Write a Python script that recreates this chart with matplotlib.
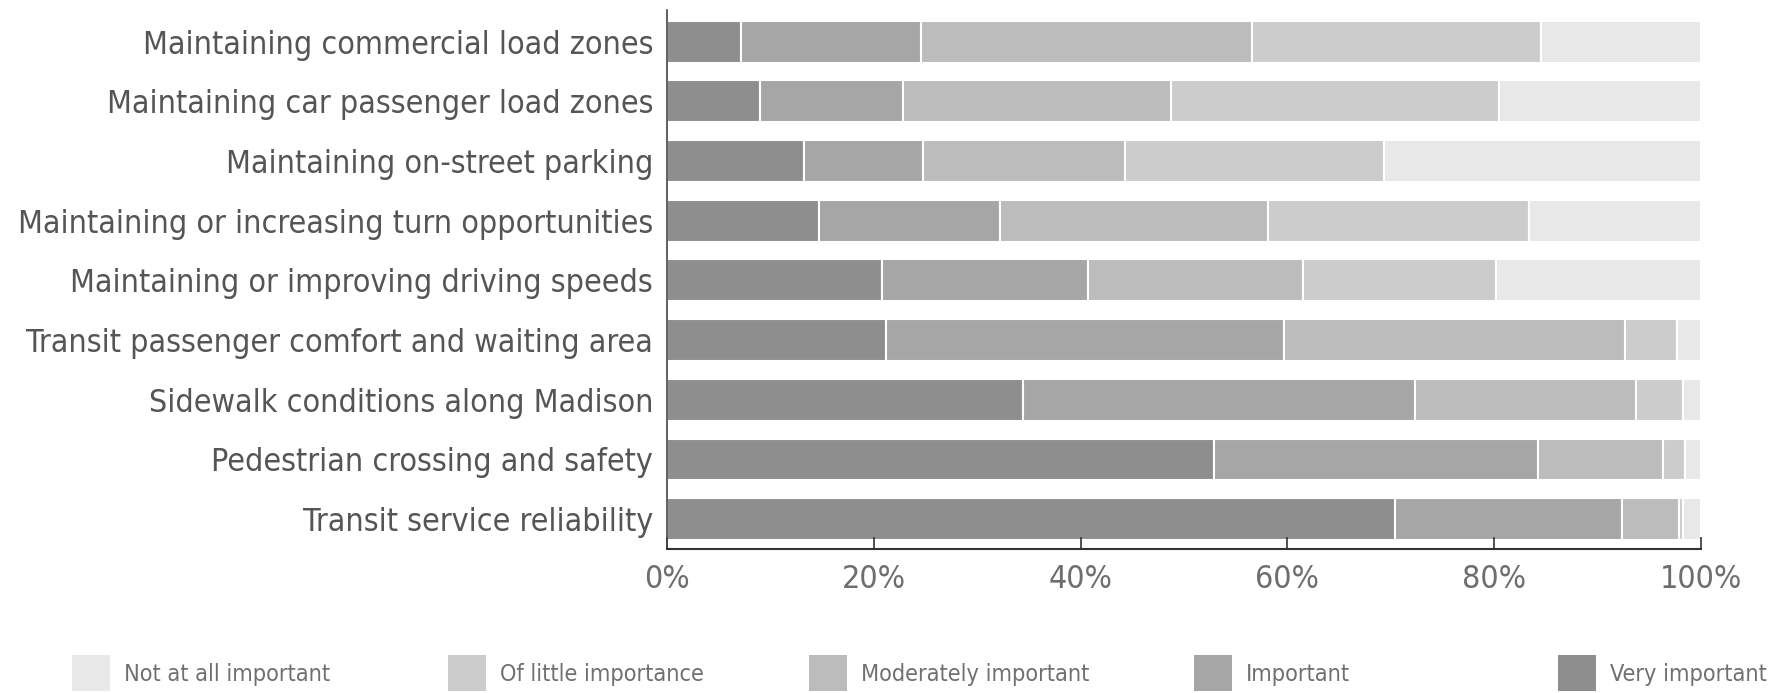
import numpy as np
import matplotlib.pyplot as plt
from matplotlib.patches import Rectangle

plt.rcParams['font.family'] = ['DejaVu Sans']
plt.rcParams['font.stretch'] = 'condensed'

# priorities, listed top to bottom
prioridades = [
    "Maintaining commercial load zones",
    "Maintaining car passenger load zones",
    "Maintaining on-street parking",
    "Maintaining or increasing turn opportunities",
    "Maintaining or improving driving speeds",
    "Transit passenger comfort and waiting area",
    "Sidewalk conditions along Madison",
    "Pedestrian crossing and safety",
    "Transit service reliability",
]

# percentage of answers for each level (same order as prioridades)
muy_importante = [7.2, 9.0, 13.3, 14.7, 20.8, 21.2, 34.4, 52.9, 70.4]
importante = [17.4, 13.8, 11.5, 17.5, 19.9, 38.5, 37.9, 31.3, 22.0]
moderado = [32.0, 25.9, 19.5, 25.9, 20.8, 33.0, 21.4, 12.1, 5.5]
poco = [27.9, 31.8, 25.0, 25.3, 18.7, 5.0, 4.6, 2.2, 0.4]
nada = [15.5, 19.5, 30.7, 16.6, 19.8, 2.3, 1.7, 1.5, 1.7]

niveles = ["Very important", "Important", "Moderately important",
           "Of little importance", "Not at all important"]
colores = ["#8e8e8e", "#a6a6a6", "#bcbcbc", "#cccccc", "#e8e8e8"]
series = [muy_importante, importante, moderado, poco, nada]

fig = plt.figure(figsize=(17.7, 6.93), dpi=100)
ax = fig.add_axes([0.3768, 0.2078, 0.5842, 0.7778])

y = np.arange(len(prioridades))[::-1]
izquierda = np.zeros(len(prioridades))
for valores, color in zip(series, colores):
    valores = np.array(valores)
    ax.barh(y, valores, left=izquierda, height=0.70, color=color,
            edgecolor="white", linewidth=1.5)
    izquierda += valores

ax.set_xlim(0, 100)
ax.set_ylim(-0.5, 8.53)
ax.set_yticks(y)
ax.set_yticklabels(prioridades, fontsize=23, color="#555555")
ax.set_xticks(np.arange(0, 101, 20))
ax.set_xticklabels([f"{v}%" for v in range(0, 101, 20)], fontsize=23, color="#6e6e6e")
ax.tick_params(axis="y", length=0, pad=10)
ax.tick_params(axis="x", direction="in", length=9, width=1.2, color="#333333", pad=11)

for lado in ["top", "right"]:
    ax.spines[lado].set_visible(False)
ax.spines["left"].set_color("#444444")
ax.spines["bottom"].set_color("#333333")
ax.spines["left"].set_linewidth(1.2)
ax.spines["bottom"].set_linewidth(1.5)

# legend along the bottom, entries spaced evenly
orden_leyenda = [4, 3, 2, 1, 0]
x_leyenda = [72, 448, 809, 1194, 1558]
W, H = 1770.0, 693.0
for i, xp in zip(orden_leyenda, x_leyenda):
    fig.add_artist(Rectangle((xp / W, 1 - 691 / H), 38 / W, 36 / H,
                             transform=fig.transFigure, facecolor=colores[i],
                             edgecolor="none"))
    fig.text((xp + 52) / W, 1 - 674 / H, niveles[i], fontsize=16.8,
             color="#707070", va="center", ha="left")

fig.savefig("out.png", dpi=100)
